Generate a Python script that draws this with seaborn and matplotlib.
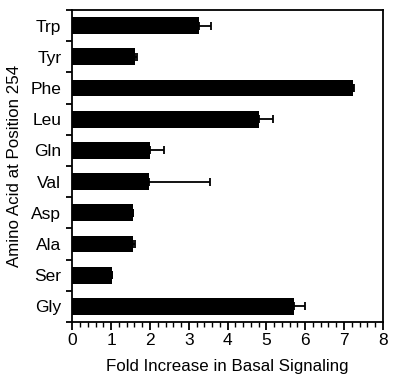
import numpy as np
import pandas as pd
import matplotlib
matplotlib.use("Agg")
import matplotlib.pyplot as plt
from matplotlib.ticker import MultipleLocator, FixedLocator
import seaborn as sns

categories = ["Trp", "Tyr", "Phe", "Leu", "Gln", "Val", "Asp", "Ala", "Ser", "Gly"]
values = [3.26, 1.61, 7.22, 4.81, 2.0, 1.97, 1.57, 1.57, 1.02, 5.72]
errors = [0.32, 0.05, 0.03, 0.35, 0.37, 1.57, 0.0, 0.04, 0.0, 0.28]

sns.set_theme(style="white")
plt.rcParams["font.family"] = ["Liberation Sans", "DejaVu Sans"]
plt.rcParams["text.color"] = "black"
plt.rcParams["axes.labelcolor"] = "black"
plt.rcParams["xtick.color"] = "black"
plt.rcParams["ytick.color"] = "black"

df = pd.DataFrame({"aa": categories, "fold": values})

fig = plt.figure(figsize=(4.0, 3.86), dpi=100)
ax = fig.add_axes([0.181, 0.166, 0.776, 0.808])

sns.barplot(data=df, x="fold", y="aa", orient="h", color="black",
            width=0.54, ax=ax, errorbar=None, saturation=1, linewidth=0)

ypos = np.arange(len(categories))
ax.errorbar(values, ypos, xerr=[np.zeros(len(errors)), errors], fmt="none",
            ecolor="black", elinewidth=1.3, capsize=3, capthick=1.3)

ax.set_xlim(0, 8)
ax.set_ylim(9.5, -0.5)
ax.xaxis.set_major_locator(MultipleLocator(1))
ax.xaxis.set_minor_locator(MultipleLocator(0.2))

ax.yaxis.set_major_locator(FixedLocator(np.arange(-0.5, 10, 1)))
ax.yaxis.set_major_formatter(plt.NullFormatter())
ax.yaxis.set_minor_locator(FixedLocator(ypos))
ax.set_yticklabels(categories, minor=True)

ax.tick_params(axis="x", which="major", direction="out", length=6, width=1.3,
               labelsize=12.5, color="black", labelcolor="black", pad=2, bottom=True)
ax.tick_params(axis="x", which="minor", direction="out", length=3.5, width=1.0,
               color="black", bottom=True)
ax.tick_params(axis="y", which="major", direction="out", length=4, width=1.3,
               color="black", left=True)
ax.tick_params(axis="y", which="minor", length=0, labelsize=12.5, pad=8,
               labelcolor="black", left=True)

for s in ax.spines.values():
    s.set_visible(True)
    s.set_color("black")
    s.set_linewidth(1.3)

ax.set_xlabel("Fold Increase in Basal Signaling", fontsize=12.2, labelpad=8, color="black")
ax.set_ylabel("Amino Acid at Position 254", fontsize=12.2, labelpad=6, color="black")

fig.savefig("out.png", dpi=100)
